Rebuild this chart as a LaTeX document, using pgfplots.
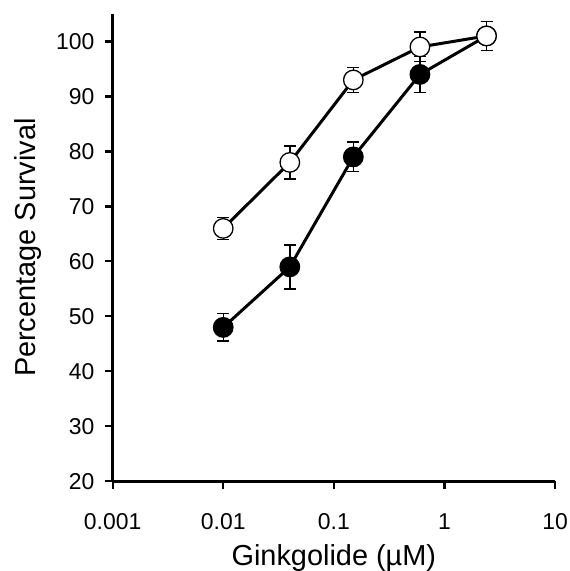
\documentclass[border=0pt]{standalone}
\usepackage{fontspec}
\setmainfont{Liberation Sans}
\usepackage{pgfplots}
\pgfplotsset{compat=1.18}
\begin{document}
\begin{tikzpicture}
\begin{axis}[
  scale only axis,
  width=444pt, height=469pt,
  xmode=log,
  xmin=0.001, xmax=10,
  ymin=20, ymax=105,
  axis x line*=bottom,
  axis y line*=left,
  axis line style={line width=2.8pt},
  xtick={0.001,0.01,0.1,1,10},
  xticklabels={0.001,0.01,0.1,1,10},
  ytick={20,30,...,100},
  xminorticks=false,
  yminorticks=false,
  tick align=outside,
  major tick length=8pt,
  tick style={line width=2.2pt, black},
  /pgf/number format/assume math mode=true,
  tick label style={font=\fontsize{23}{25}\selectfont, inner sep=0pt},
  yticklabel style={xshift=-10pt},
  xticklabel style={yshift=-24pt},
  xlabel={Ginkgolide (µM)},
  ylabel={Percentage Survival},
  label style={font=\fontsize{29}{31}\selectfont, inner sep=0pt},
  xlabel style={at={(axis description cs:0.5,-0.163)}, anchor=center},
  ylabel style={at={(axis description cs:-0.192,0.5)}, anchor=center, rotate=0},
  clip=false,
]
\coordinate (O) at (rel axis cs:0,0);
% filled series
\addplot+[black, line width=3pt, mark=*, mark size=9.8pt,
  mark options={fill=black, line width=1.3pt, solid},
  error bars/.cd, y dir=both, y explicit,
  error mark options={rotate=90, mark size=6pt, line width=1.4pt, black},
  error bar style={line width=1.4pt, black}]
  coordinates {
  (0.01,48) +- (0,2.5)
  (0.04,59) +- (0,4)
  (0.15,79) +- (0,2.7)
  (0.6,94) +- (0,3.3)
  (2.4,101) +- (0,2.6)
  };
% open series
\addplot+[black, line width=3pt, mark=*, mark size=9.8pt,
  mark options={fill=white, draw=black, line width=1.3pt, solid},
  error bars/.cd, y dir=both, y explicit,
  error mark options={rotate=90, mark size=6pt, line width=1.4pt, black},
  error bar style={line width=1.4pt, black}]
  coordinates {
  (0.01,66) +- (0,2)
  (0.04,78) +- (0,3)
  (0.15,93) +- (0,2.3)
  (0.6,99) +- (0,2.7)
  (2.4,101) +- (0,2.6)
  };
\end{axis}
\path (O) ++(-113pt,-88pt) rectangle ++(571pt,571pt);
\end{tikzpicture}
\end{document}
